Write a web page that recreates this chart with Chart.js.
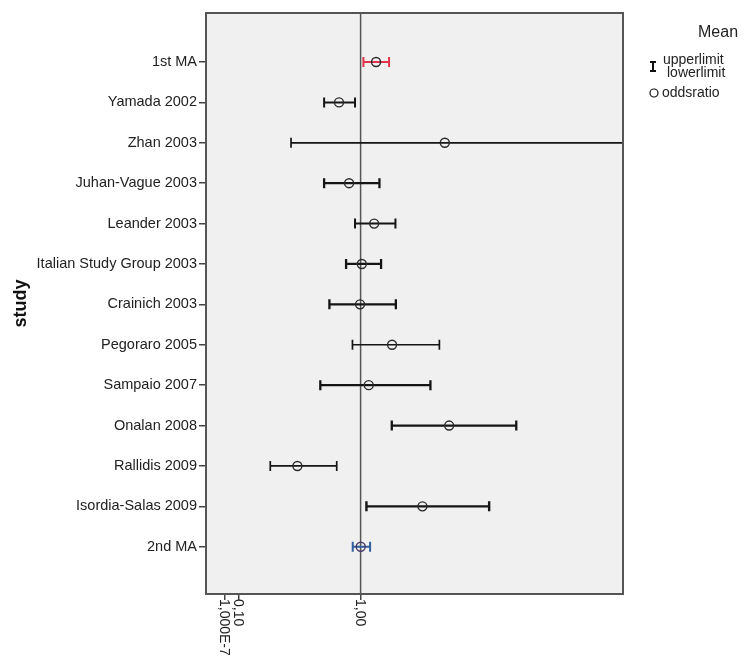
<!DOCTYPE html>
<html>
<head>
<meta charset="utf-8">
<script src="https://cdn.jsdelivr.net/npm/chart.js@4/dist/chart.umd.min.js"></script>
<style>
  html, body { margin: 0; padding: 0; background: #ffffff; }
  #wrap { width: 744px; height: 661px; position: relative; }
</style>
</head>
<body>
<div id="wrap"><canvas id="c" width="744" height="661"></canvas></div>
<script>
// ---- data ----
const categories = ['1st MA', 'Yamada 2002', 'Zhan 2003', 'Juhan-Vague 2003', 'Leander 2003',
  'Italian Study Group 2003', 'Crainich 2003', 'Pegoraro 2005', 'Sampaio 2007', 'Onalan 2008',
  'Rallidis 2009', 'Isordia-Salas 2009', '2nd MA'];
const oddsRatio  = [1.114, 0.841, 1.621, 0.915, 1.100, 1.009, 0.996, 1.232, 1.060, 1.653, 0.534, 1.456, 1.001];
const lowerLimit = [1.021, 0.731, 0.487, 0.731, 0.959, 0.893, 0.770, 0.940, 0.703, 1.230, 0.334, 1.043, 0.942];
const upperLimit = [1.210, 0.959, 2.935, 1.139, 1.257, 1.151, 1.260, 1.581, 1.515, 2.148, 0.824, 1.948, 1.070];
const xTickValues = [1e-7, 0.1, 1];
const xTickLabels = ['1,000E-7', '0,10', '1,00'];
const referenceValue = 1;

// ---- styles (kept separate from data) ----
const barColors = categories.map((c, i) => i === 0 ? '#e0344c' : (i === categories.length - 1 ? '#2f5f9f' : '#151515'));
const barWidths = [2, 2, 1.7, 2.3, 2, 2.3, 2.3, 1.7, 2.3, 2.3, 1.7, 2.4, 2];
const FONT = "'Liberation Sans', Arial, sans-serif";

const points = categories.map((c, i) => ({ x: oddsRatio[i], y: i }));

const bgPlugin = {
  id: 'bg',
  beforeDraw(chart) {
    const { ctx, chartArea: a } = chart;
    ctx.save();
    ctx.fillStyle = '#f0f0f0';
    ctx.fillRect(a.left, a.top, a.right - a.left, a.bottom - a.top);
    ctx.restore();
  },
  beforeDatasetsDraw(chart) {
    const { ctx, chartArea: a, scales } = chart;
    const x = scales.x.getPixelForValue(referenceValue);
    ctx.save();
    ctx.strokeStyle = '#555555';
    ctx.lineWidth = 1.5;
    ctx.beginPath();
    ctx.moveTo(x, a.top);
    ctx.lineTo(x, a.bottom);
    ctx.stroke();
    // error bars
    categories.forEach((c, i) => {
      const y = scales.y.getPixelForValue(i);
      const x1 = scales.x.getPixelForValue(lowerLimit[i]);
      const x2 = scales.x.getPixelForValue(upperLimit[i]);
      ctx.strokeStyle = barColors[i];
      ctx.lineWidth = barWidths[i];
      ctx.beginPath();
      ctx.moveTo(x1, y); ctx.lineTo(x2, y);
      ctx.moveTo(x1, y - 5); ctx.lineTo(x1, y + 5);
      ctx.moveTo(x2, y - 5); ctx.lineTo(x2, y + 5);
      ctx.stroke();
    });
    ctx.restore();
  },
  afterDraw(chart) {
    const { ctx, chartArea: a, scales } = chart;
    ctx.save();
    // frame
    ctx.strokeStyle = '#555555';
    ctx.lineWidth = 2;
    ctx.strokeRect(a.left, a.top, a.right - a.left, a.bottom - a.top);
    // x tick labels rotated clockwise
    ctx.fillStyle = '#222222';
    ctx.font = '14px ' + FONT;
    ctx.textAlign = 'left';
    ctx.textBaseline = 'middle';
    scales.x.ticks.forEach((t, k) => {
      const px = scales.x.getPixelForValue(t.value);
      ctx.save();
      ctx.translate(px - 1, a.bottom + 5);
      ctx.rotate(Math.PI / 2);
      ctx.fillText(xTickLabels[k], 0, 0);
      ctx.restore();
    });
    // legend
    ctx.fillStyle = '#222222';
    ctx.font = '16px ' + FONT;
    ctx.textAlign = 'left';
    ctx.textBaseline = 'middle';
    ctx.fillText('Mean', 698, 33);
    ctx.font = '14px ' + FONT;
    ctx.fillText('upperlimit', 663, 60);
    ctx.fillText('lowerlimit', 667, 73);
    ctx.fillText('oddsratio', 662, 93);
    // I glyph
    ctx.strokeStyle = '#111111';
    ctx.lineWidth = 2;
    ctx.beginPath();
    ctx.moveTo(653, 62); ctx.lineTo(653, 71);
    ctx.moveTo(650, 62); ctx.lineTo(656, 62);
    ctx.moveTo(650, 71); ctx.lineTo(656, 71);
    ctx.stroke();
    ctx.lineWidth = 1.2;
    ctx.beginPath();
    ctx.arc(654, 93, 4, 0, Math.PI * 2);
    ctx.stroke();
    ctx.restore();
  }
};

new Chart(document.getElementById('c'), {
  type: 'scatter',
  data: {
    datasets: [{
      data: points,
      pointRadius: 4.5,
      pointHoverRadius: 4.5,
      pointBackgroundColor: 'rgba(0,0,0,0)',
      pointBorderColor: categories.map((c, i) => i === categories.length - 1 ? '#4a3a6a' : '#2a2a2a'),
      pointBorderWidth: 1.4
    }]
  },
  options: {
    responsive: false,
    animation: false,
    events: [],
    layout: { padding: { top: 13, right: 121, left: 0, bottom: 0 } },
    plugins: { legend: { display: false }, tooltip: { enabled: false } },
    scales: {
      x: {
        type: 'linear',
        min: -0.14,
        max: 2.935,
        afterBuildTicks: s => { s.ticks = xTickValues.map(v => ({ value: v })); },
        afterFit: s => { s.height = 67; },
        ticks: { display: false },
        grid: { drawOnChartArea: false, drawTicks: true, tickLength: 6, color: '#444444', lineWidth: 1.5 },
        border: { display: false }
      },
      y: {
        type: 'linear',
        reverse: true,
        min: -1.213,
        max: 13.17,
        afterBuildTicks: s => { s.ticks = categories.map((c, i) => ({ value: i })); },
        afterFit: s => { s.width = 206; },
        ticks: {
          callback: v => categories[v],
          color: '#222222',
          font: { family: FONT, size: 14.5 },
          padding: 2,
          autoSkip: false
        },
        grid: { drawOnChartArea: false, drawTicks: true, tickLength: 7, color: '#444444', lineWidth: 1.5 },
        border: { display: false },
        title: {
          display: true,
          text: 'study',
          color: '#111111',
          font: { family: FONT, size: 18, weight: 'bold' },
          padding: { top: 10, bottom: 0 }
        }
      }
    }
  },
  plugins: [bgPlugin]
});
</script>
</body>
</html>
